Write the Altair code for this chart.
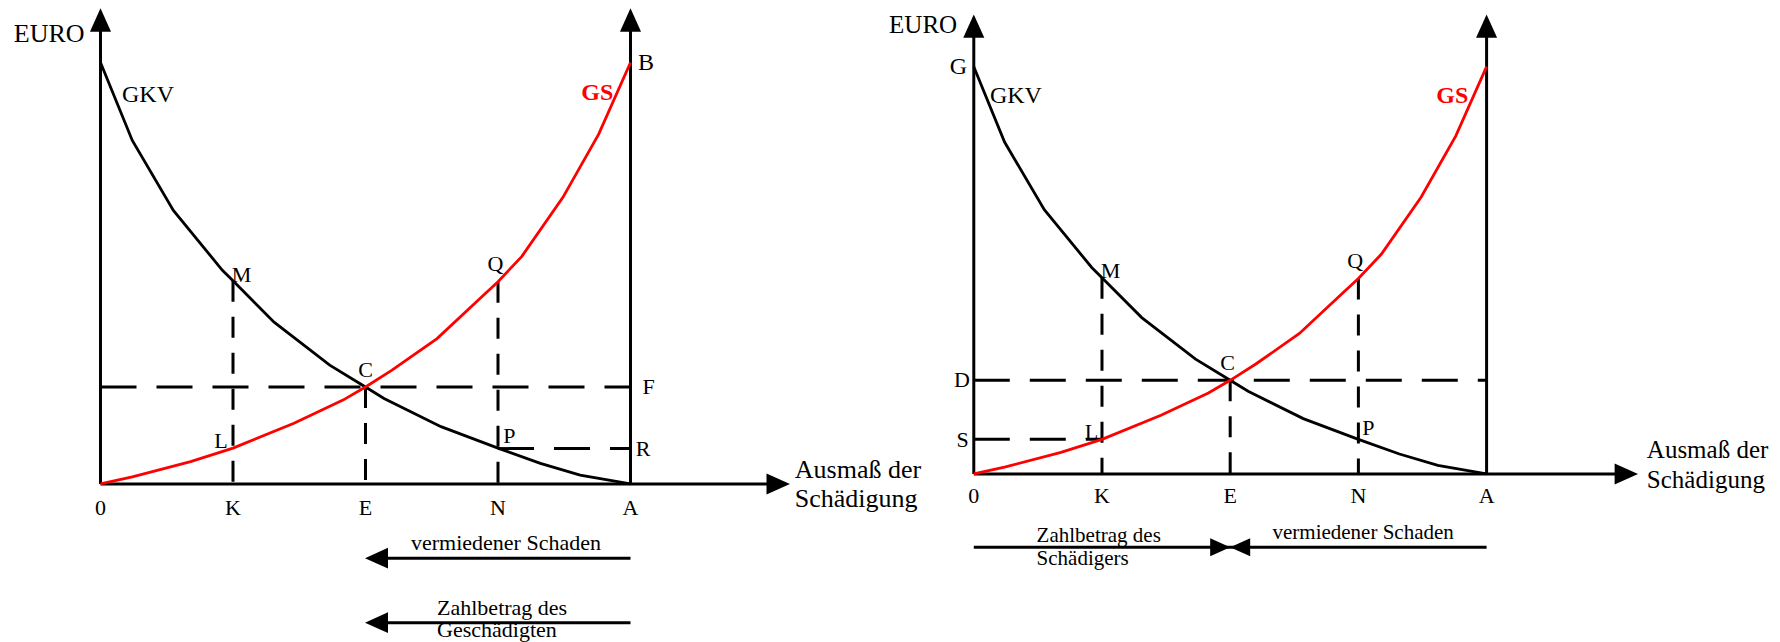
import altair as alt
import pandas as pd

# ---------------- data (economic units) ----------------
tick_labels = ["0", "K", "E", "N", "A"]
tick_pos = [0, 1, 2, 3, 4]

# GKV curve (black)
gkv_x = [0, 0.24, 0.55, 0.92, 1.0, 1.31, 1.73, 2.0, 2.14, 2.57, 3.0, 3.32, 3.62, 4]
gkv_y = [10, 8.15, 6.49, 5.07, 4.82, 3.84, 2.82, 2.3, 2.03, 1.36, 0.85, 0.49, 0.21, 0]

# GS curve (red)
gs_x = [0, 0.24, 0.68, 1.0, 1.46, 1.83, 2.0, 2.2, 2.54, 2.88, 3.0, 3.18, 3.49, 3.76, 4]
gs_y = [0, 0.17, 0.53, 0.85, 1.44, 1.99, 2.3, 2.7, 3.45, 4.45, 4.8, 5.4, 6.8, 8.3, 10]

c_y = 2.3    # C: intersection
m_y = 4.82   # M: GKV at K
q_y = 4.80   # Q: GS at N
l_y = 0.85   # L: GS at K
p_y = 0.85   # P: GKV at N

FONT = "Liberation Serif"
ARROW = "M0,-1L0.9,1L-0.9,1Z"
W, H = 1764, 634


def panel(cfg):
    xs = alt.Scale(domain=cfg["xdom"], nice=False, zero=False)
    ys = alt.Scale(domain=cfg["ydom"], nice=False, zero=False)
    X = alt.X("x:Q", scale=xs, axis=None)
    Y = alt.Y("y:Q", scale=ys, axis=None)
    layers = []

    # dashed helper lines
    hd = pd.DataFrame(cfg["hdash"], columns=["x", "x2", "y"])
    layers.append(alt.Chart(hd).mark_rule(color="black", strokeWidth=3, strokeDash=[36, 20]).encode(
        x=X, x2="x2:Q", y=Y))
    vd = pd.DataFrame(cfg["vdash"], columns=["x", "y", "y2"])
    layers.append(alt.Chart(vd).mark_rule(color="black", strokeWidth=3, strokeDash=[21, 15]).encode(
        x=X, y=Y, y2="y2:Q"))

    # axes (solid)
    ax = pd.DataFrame(cfg["axes"], columns=["x", "y", "x2", "y2"])
    layers.append(alt.Chart(ax).mark_rule(color="black", strokeWidth=3).encode(
        x=X, y=Y, x2="x2:Q", y2="y2:Q"))

    # curves
    gkv = pd.DataFrame({"x": gkv_x, "y": gkv_y, "i": range(len(gkv_x))})
    gs = pd.DataFrame({"x": gs_x, "y": gs_y, "i": range(len(gs_x))})
    layers.append(alt.Chart(gkv).mark_line(color="black", strokeWidth=2.8).encode(
        x=X, y=Y, order="i:Q"))
    layers.append(alt.Chart(gs).mark_line(color="#ff0000", strokeWidth=2.8).encode(
        x=X, y=Y, order="i:Q"))

    # arrow heads
    for (size, pts) in cfg["arrows"]:
        ad = pd.DataFrame(pts, columns=["x", "y", "a"])
        layers.append(alt.Chart(ad).mark_point(shape=ARROW, filled=True, color="black",
                                               opacity=1, size=size, strokeWidth=0).encode(
            x=X, y=Y, angle=alt.Angle("a:Q", scale=None)))

    # labels
    lab = pd.DataFrame(cfg["labels"], columns=["t", "x", "y", "align", "baseline", "size", "color", "weight"])
    for key, grp in lab.groupby(["align", "baseline", "size", "color", "weight"]):
        al, bl, sz, col, wt = key
        layers.append(alt.Chart(grp).mark_text(font=FONT, align=al, baseline=bl, fontSize=int(sz),
                                                color=col, fontWeight=wt).encode(
            x=X, y=Y, text="t:N"))
    return alt.layer(*layers)


def tick_rows(yb):
    rows = []
    for t, p in zip(tick_labels, tick_pos):
        rows.append((t, p, yb, "center", "alphabetic", 22, "black", "normal"))
    return rows


left_cfg = {
    "xdom": [-0.6981, 12.6151],
    "ydom": [-3.749, 11.293],
    "hdash": [(0, 4, c_y), (3, 4, p_y - 0.01)],
    "vdash": [(1, m_y, 0), (2, c_y, 0), (3, q_y, 0)],
    "axes": [(0, 0, 0, 11.0), (4, 0, 4, 11.0), (0, 0, 5.1, 0),
             (2.05, -1.76, 4, -1.76), (2.05, -3.29, 4, -3.29)],
    "arrows": [(548, [(0, 11.008, 0), (4, 11.008, 0), (5.115, 0, 90)]),
               (529, [(2.083, -1.76, 270), (2.083, -3.29, 270)])],
    "labels": [
        ("EURO", -0.12, 10.49, "right", "alphabetic", 26, "black", "normal"),
        ("GKV", 0.162, 9.07, "left", "alphabetic", 24, "black", "normal"),
        ("GS", 3.87, 9.11, "right", "alphabetic", 24, "#ff0000", "bold"),
        ("B", 4.057, 9.82, "left", "alphabetic", 24, "black", "normal"),
        ("M", 0.99, 4.80, "left", "alphabetic", 22, "black", "normal"),
        ("Q", 2.98, 5.06, "center", "alphabetic", 22, "black", "normal"),
        ("C", 2.0, 2.55, "center", "alphabetic", 22, "black", "normal"),
        ("F", 4.09, 2.3, "left", "middle", 22, "black", "normal"),
        ("L", 0.96, 0.85, "right", "alphabetic", 22, "black", "normal"),
        ("P", 3.04, 0.97, "left", "alphabetic", 22, "black", "normal"),
        ("R", 4.04, 0.84, "left", "middle", 22, "black", "normal"),
        ("Ausmaß der", 5.24, 0.14, "left", "alphabetic", 26, "black", "normal"),
        ("Schädigung", 5.24, -0.55, "left", "alphabetic", 26, "black", "normal"),
        ("vermiedener Schaden", 3.06, -1.57, "center", "alphabetic", 22, "black", "normal"),
        ("Zahlbetrag des", 2.54, -3.11, "left", "alphabetic", 22, "black", "normal"),
        ("Geschädigten", 2.54, -3.63, "left", "alphabetic", 22, "black", "normal"),
    ] + tick_rows(-0.735),
}

right_cfg = {
    "xdom": [-7.5335, 6.2263],
    "ydom": [-4.125, 11.441],
    "hdash": [(0, 4, c_y), (0, 1, l_y)],
    "vdash": [(1, m_y, 0), (2, c_y, 0), (3, q_y, 0)],
    "axes": [(0, 0, 0, 11.0), (4, 0, 4, 11.0), (0, 0, 5.08, 0),
             (0, -1.80, 4, -1.80)],
    "arrows": [(548, [(0, 10.995, 0), (4, 10.995, 0), (5.09, 0, 90)]),
               (400, [(1.922, -1.80, 90), (2.078, -1.80, 270)])],
    "labels": [
        ("EURO", -0.13, 10.83, "right", "alphabetic", 25, "black", "normal"),
        ("G", -0.053, 9.82, "right", "alphabetic", 24, "black", "normal"),
        ("GKV", 0.126, 9.11, "left", "alphabetic", 24, "black", "normal"),
        ("GS", 3.858, 9.10, "right", "alphabetic", 24, "#ff0000", "bold"),
        ("M", 0.99, 4.81, "left", "alphabetic", 22, "black", "normal"),
        ("Q", 2.975, 5.06, "center", "alphabetic", 22, "black", "normal"),
        ("C", 1.98, 2.55, "center", "alphabetic", 22, "black", "normal"),
        ("D", -0.03, 2.31, "right", "middle", 22, "black", "normal"),
        ("S", -0.04, 0.835, "right", "middle", 22, "black", "normal"),
        ("L", 0.97, 0.85, "right", "alphabetic", 22, "black", "normal"),
        ("P", 3.03, 0.96, "left", "alphabetic", 22, "black", "normal"),
        ("Ausmaß der", 5.25, 0.39, "left", "alphabetic", 25, "black", "normal"),
        ("Schädigung", 5.25, -0.34, "left", "alphabetic", 25, "black", "normal"),
        ("Zahlbetrag des", 0.49, -1.67, "left", "alphabetic", 21, "black", "normal"),
        ("Schädigers", 0.49, -2.23, "left", "alphabetic", 21, "black", "normal"),
        ("vermiedener Schaden", 2.33, -1.59, "left", "alphabetic", 21, "black", "normal"),
    ] + tick_rows(-0.71),
}

chart = alt.layer(panel(left_cfg), panel(right_cfg)).resolve_scale(
    x="independent", y="independent"
).properties(
    width=W, height=H, padding=0,
    autosize=alt.AutoSizeParams(type="fit", contains="padding"),
).configure_view(stroke=None)

chart.save("out.html", embed_options={"renderer": "svg", "actions": False})
